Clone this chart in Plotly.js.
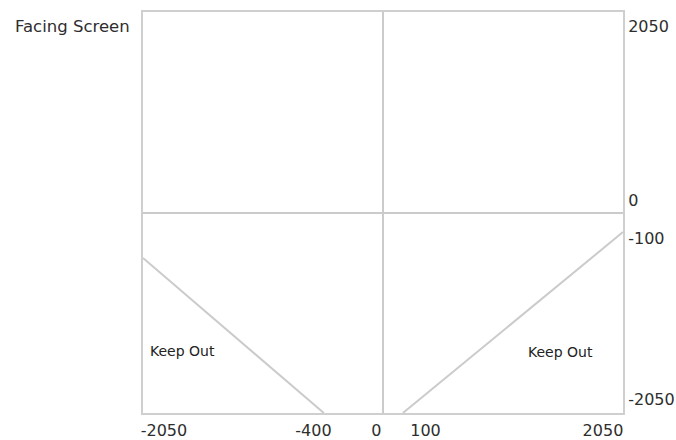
<!DOCTYPE html>
<html>
<head>
<meta charset="utf-8">
<script src="https://cdn.plot.ly/plotly-3.0.1.min.js"></script>
<style>html,body{margin:0;padding:0;background:#fff;}#chart{width:676px;height:440px;}</style>
</head>
<body>
<div id="chart"></div>
<script>
// ---- data ----
var axisLimit = 2050;
var leftBoundaryX = [-2050, -505];
var leftBoundaryY = [-465, -2050];
var rightBoundaryX = [170, 2050];
var rightBoundaryY = [-2050, -200];
var xTickLabels = ['-2050', '-400', '0', '100', '2050'];
var yTickLabels = ['2050', '0', '-100', '-2050'];
var zoneLabel = 'Keep Out';
var screenLabel = 'Facing Screen';

// ---- layout helpers (label placement, not data) ----
var xTickPos = [-1871, -594, -56, 363, 1879];
var yTickPos = [1907, 128, -266, -1907];

var lineStyle = {color: '#cbcbcb', width: 2};
var font = 'DejaVu Sans, Arial, sans-serif';

var traces = [
  {x: leftBoundaryX, y: leftBoundaryY, mode: 'lines', line: lineStyle, hoverinfo: 'skip', showlegend: false},
  {x: rightBoundaryX, y: rightBoundaryY, mode: 'lines', line: lineStyle, hoverinfo: 'skip', showlegend: false}
];

var layout = {
  width: 676, height: 440,
  margin: {l: 143, r: 53, t: 12, b: 27, pad: 0},
  paper_bgcolor: '#fff', plot_bgcolor: '#fff',
  showlegend: false,
  font: {family: font, size: 16, color: '#333'},
  xaxis: {
    range: [-axisLimit, axisLimit], fixedrange: true,
    showgrid: false, zeroline: true, zerolinecolor: '#cbcbcb', zerolinewidth: 2,
    showline: true, mirror: true, linecolor: '#cfcfcf', linewidth: 2,
    ticks: '', tickmode: 'array', tickvals: xTickPos, ticktext: xTickLabels,
    ticklabelstandoff: 2,
    tickfont: {family: font, size: 16, color: '#2e2e2e'}
  },
  yaxis: {
    range: [-axisLimit, axisLimit], fixedrange: true, side: 'right',
    showgrid: false, zeroline: true, zerolinecolor: '#cbcbcb', zerolinewidth: 2,
    showline: true, mirror: true, linecolor: '#cfcfcf', linewidth: 2,
    ticks: '', tickmode: 'array', tickvals: yTickPos, ticktext: yTickLabels,
    tickfont: {family: font, size: 16, color: '#2e2e2e'}
  },
  annotations: [
    {text: zoneLabel, x: -1713, y: -1416, xref: 'x', yref: 'y', showarrow: false,
     font: {family: font, size: 14, color: '#222'}, xanchor: 'center', yanchor: 'middle'},
    {text: zoneLabel, x: 1512, y: -1426, xref: 'x', yref: 'y', showarrow: false,
     font: {family: font, size: 14, color: '#222'}, xanchor: 'center', yanchor: 'middle'},
    {text: screenLabel, x: -0.023, y: 0.965, xref: 'paper', yref: 'paper', showarrow: false,
     font: {family: font, size: 16.5, color: '#2e2e2e'}, xanchor: 'right', yanchor: 'middle'}
  ]
};

Plotly.newPlot('chart', traces, layout, {staticPlot: true, displayModeBar: false});
</script>
</body>
</html>
